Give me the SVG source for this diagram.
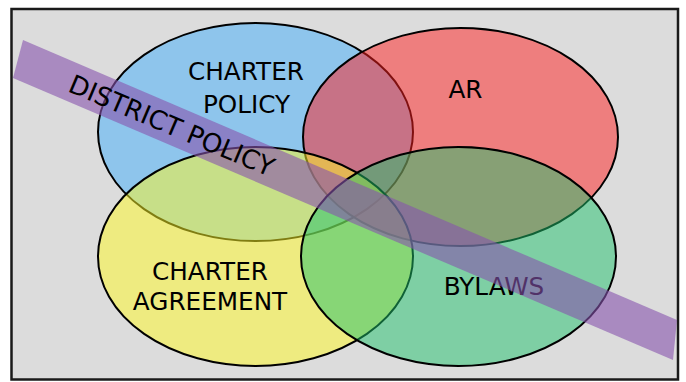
<svg xmlns="http://www.w3.org/2000/svg" width="686" height="382" viewBox="0 0 686 382">
<style>
.set{stroke:#000;stroke-width:2}
.lbl{font-family:"DejaVu Sans","Noto Sans",sans-serif;font-size:24.7px;fill:#000;text-anchor:middle}
</style>
<rect x="0" y="0" width="686" height="382" fill="#ffffff"/>
<rect id="frame" x="11.5" y="9" width="666.5" height="370.5" fill="#dcdcdc" stroke="#1a1a1a" stroke-width="2.5"/>
<g id="charter-policy">
<ellipse class="set" cx="255.5" cy="132" rx="157.5" ry="109" fill="rgba(64,174,252,0.5)"/>
</g>
<g id="ar">
<ellipse class="set" cx="460.5" cy="137" rx="157.5" ry="109" fill="rgba(255,32,32,0.5)"/>
</g>
<g id="charter-agreement">
<ellipse class="set" cx="255.5" cy="256.5" rx="157.5" ry="109.5" fill="rgba(255,250,36,0.5)"/>
</g>
<g id="bylaws">
<ellipse class="set" cx="458.5" cy="256.5" rx="157.5" ry="109.5" fill="rgba(32,194,108,0.5)"/>
</g>
<g id="labels">
<text class="lbl" x="246" y="80">CHARTER</text>
<text class="lbl" x="246.5" y="113">POLICY</text>
<text class="lbl" x="465.5" y="98">AR</text>
<text class="lbl" x="210" y="280">CHARTER</text>
<text class="lbl" x="210" y="310">AGREEMENT</text>
<text class="lbl" x="494" y="295">BYLAWS</text>
</g>
<g id="district-policy">
<polygon points="23,40 677,320 673,360 13,78" fill="rgba(135,83,173,0.6)"/>
<text class="lbl" style="font-size:26px" transform="translate(168,134) rotate(23)" x="0" y="0">DISTRICT POLICY</text>
</g>
<g id="connectors"></g>
</svg>
